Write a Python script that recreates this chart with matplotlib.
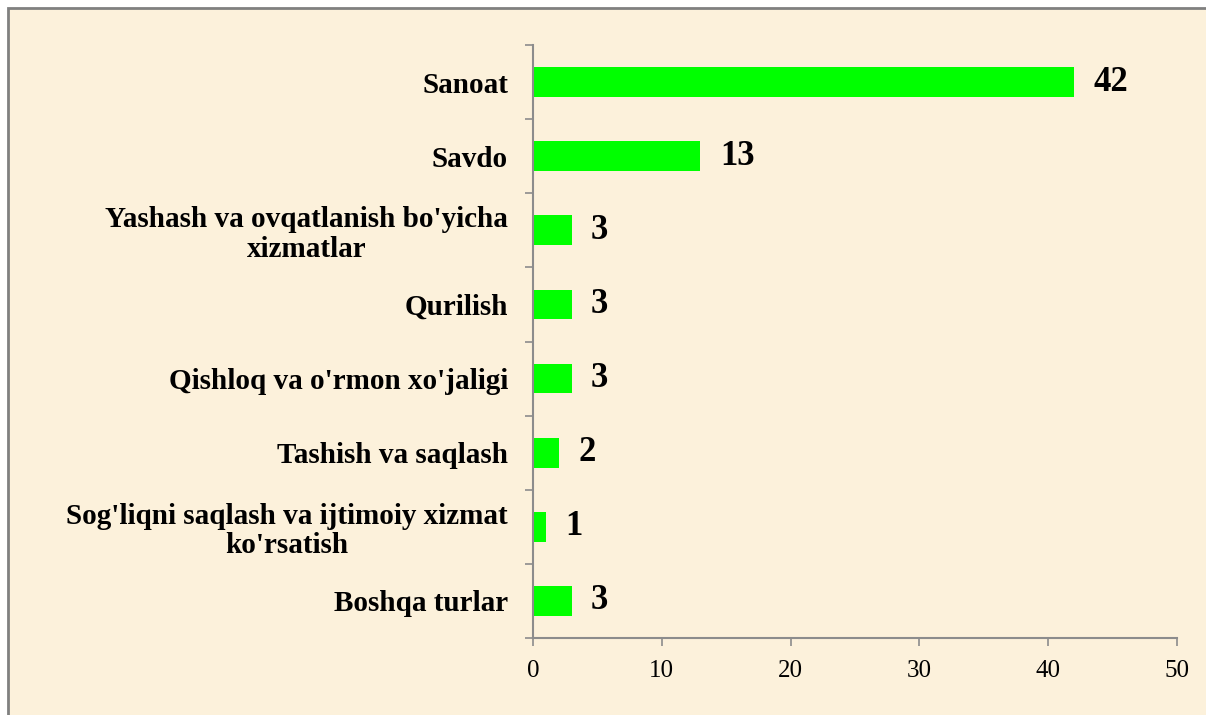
import numpy as np
import matplotlib
matplotlib.use("Agg")
import matplotlib.pyplot as plt
from matplotlib.patches import Rectangle

# --- Data ---
categories = [
    "Sanoat",
    "Savdo",
    "Yashash va ovqatlanish bo'yicha\nxizmatlar",
    "Qurilish",
    "Qishloq va o'rmon xo'jaligi",
    "Tashish va saqlash",
    "Sog'liqni saqlash va ijtimoiy xizmat\nko'rsatish",
    "Boshqa turlar",
]
values = [42, 13, 3, 3, 3, 2, 1, 3]
x_ticks = [0, 10, 20, 30, 40, 50]

BG = "#FCF1DB"
SPINE = "#8C8C8C"

plt.rcParams["font.family"] = ["Liberation Serif", "DejaVu Serif"]

fig = plt.figure(figsize=(12.06, 7.15), dpi=100, facecolor="white")
# chart area with parchment-like fill and gray frame (runs off right/bottom edge)
fig.patches.append(Rectangle((8 / 1206, -0.02), 1.1, 1 - 8 / 715 + 0.02,
                             transform=fig.transFigure, facecolor=BG,
                             edgecolor="#808080", linewidth=2, zorder=-1))

ax = fig.add_axes([533 / 1206, 1 - 638 / 715, 644 / 1206, 593 / 715])
ax.set_zorder(1)
ax.set_facecolor("none")

pos = np.arange(len(categories))
bars = ax.barh(pos, values, height=0.4, color="#00FF00", zorder=2)

ax.set_xlim(0, 50)
ax.set_ylim(len(categories) - 0.5, -0.5)

# value labels
for y, v in zip(pos, values):
    ax.annotate(str(v), xy=(v, y), xytext=(14, 0), textcoords="offset points",
                ha="left", va="center", fontsize=25, fontweight="bold")

# y ticks at category boundaries, labels in the middle
ax.set_yticks(np.arange(-0.5, len(categories)), labels=[])
ax.set_yticks(pos, labels=categories, minor=True)
ax.tick_params(axis="y", which="major", length=6, width=1.2, color=SPINE, direction="out")
ax.tick_params(axis="y", which="minor", length=0, pad=18, labelsize=21)
for lbl in ax.get_yticklabels(minor=True):
    lbl.set_fontweight("bold")
    lbl.set_multialignment("center")
    lbl.set_linespacing(1.12)

ax.set_xticks(x_ticks)
ax.tick_params(axis="x", length=6, width=1.2, color=SPINE, direction="out",
               labelsize=18, pad=10)

for side in ["top", "right"]:
    ax.spines[side].set_visible(False)
for side in ["left", "bottom"]:
    ax.spines[side].set_color(SPINE)
    ax.spines[side].set_linewidth(1.5)

fig.savefig("out.png", dpi=100, facecolor="white")
